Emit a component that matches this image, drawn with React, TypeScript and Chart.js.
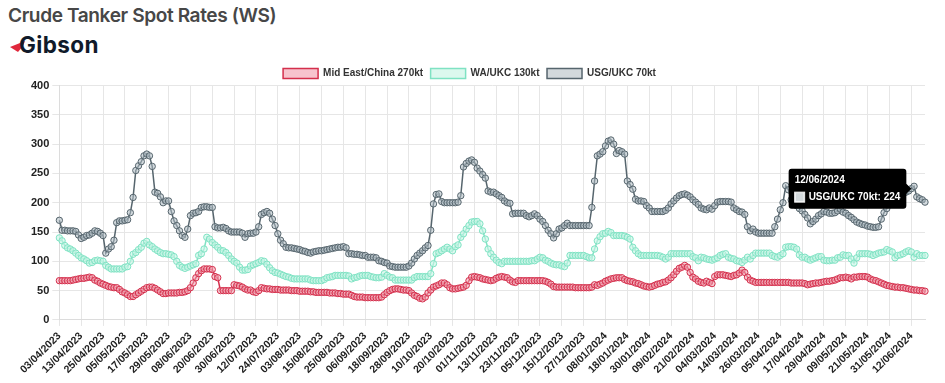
import React, { useEffect, useRef } from 'react';
import { Chart, registerables } from 'chart.js';

Chart.register(...registerables);

// ---- Data -----------------------------------------------------------------
const START_DATE = '2023-04-03';
const POINT_COUNT = 318;
const TICK_EVERY = 8;
const TOOLTIP_INDEX = 312; // 12/06/2024

function businessDayLabels(start: string, n: number): string[] {
  const d = new Date(start + 'T00:00:00Z');
  const out: string[] = [];
  while (out.length < n) {
    const wd = d.getUTCDay();
    if (wd !== 0 && wd !== 6) {
      const dd = String(d.getUTCDate()).padStart(2, '0');
      const mm = String(d.getUTCMonth() + 1).padStart(2, '0');
      out.push(`${dd}/${mm}/${d.getUTCFullYear()}`);
    }
    d.setUTCDate(d.getUTCDate() + 1);
  }
  return out;
}

const categories = businessDayLabels(START_DATE, POINT_COUNT);

const yTicks = [0, 50, 100, 150, 200, 250, 300, 350, 400];

const seriesNames = ['Mid East/China 270kt', 'WA/UKC 130kt', 'USG/UKC 70kt'];

const midEastChina = [
  67, 67, 67, 67, 67, 68, 69, 70,
  71, 71, 72, 73, 72, 68, 66, 63,
  61, 59, 57, 56, 55, 55, 52, 48,
  46, 43, 40, 40, 43, 46, 49, 52,
  55, 56, 56, 54, 51, 48, 45, 45,
  46, 46, 46, 46, 47, 47, 48, 50,
  55, 63, 72, 79, 84, 87, 87, 87,
  86, 74, 72, 50, 50, 50, 50, 50,
  60, 59, 58, 56, 53, 51, 51, 48,
  47, 50, 55, 54, 53, 53, 52, 52,
  52, 51, 51, 51, 51, 50, 50, 50,
  49, 49, 49, 49, 48, 48, 47, 47,
  47, 47, 47, 46, 46, 46, 45, 45,
  44, 44, 44, 42, 40, 39, 39, 39,
  38, 38, 38, 38, 38, 38, 39, 43,
  47, 50, 52, 53, 53, 52, 51, 51,
  50, 46, 42, 40, 37, 36, 39, 46,
  51, 56, 58, 60, 63, 63, 60, 55,
  53, 53, 54, 55, 56, 59, 67, 73,
  74, 73, 72, 70, 69, 68, 67, 68,
  71, 73, 74, 73, 72, 68, 65, 64,
  67, 67, 67, 67, 67, 67, 67, 67,
  67, 67, 66, 64, 61, 57, 56, 56,
  56, 56, 56, 56, 56, 55, 55, 55,
  55, 55, 55, 56, 60, 59, 61, 63,
  66, 68, 70, 71, 72, 72, 72, 69,
  67, 66, 65, 63, 62, 60, 58, 57,
  56, 57, 59, 61, 62, 64, 65, 68,
  72, 77, 83, 88, 90, 93, 90, 81,
  73, 70, 66, 64, 63, 66, 64, 62,
  74, 77, 77, 77, 76, 75, 74, 76,
  77, 80, 85, 81, 73, 68, 66, 64,
  64, 64, 64, 64, 64, 64, 64, 64,
  64, 64, 64, 64, 63, 63, 63, 63,
  63, 62, 60, 61, 62, 63, 63, 64,
  65, 66, 66, 67, 68, 70, 72, 72,
  73, 72, 70, 73, 73, 74, 74, 74,
  73, 70, 68, 67, 65, 63, 61, 59,
  58, 57, 56, 56, 55, 55, 54, 53,
  52, 51, 51, 50, 50, 49,
];

const waUkc = [
  140, 135, 127, 123, 121, 118, 114, 110,
  106, 104, 101, 97, 98, 101, 102, 101,
  100, 93, 90, 87, 87, 87, 87, 87,
  90, 91, 100, 112, 115, 120, 124, 131,
  134, 128, 125, 121, 118, 115, 113, 113,
  112, 111, 108, 100, 93, 90, 88, 90,
  92, 94, 96, 110, 113, 121, 141, 138,
  132, 128, 124, 119, 118, 115, 110, 104,
  100, 97, 90, 85, 85, 86, 92, 94,
  96, 98, 101, 100, 95, 89, 84, 81,
  80, 78, 76, 74, 73, 71, 70, 70,
  70, 70, 70, 70, 68, 67, 67, 67,
  67, 69, 72, 73, 74, 76, 76, 76,
  76, 76, 75, 70, 72, 73, 75, 76,
  76, 76, 74, 73, 72, 72, 73, 79,
  76, 73, 72, 68, 68, 68, 68, 68,
  68, 68, 72, 74, 74, 74, 74, 74,
  79, 96, 113, 115, 118, 121, 124, 121,
  118, 125, 128, 141, 147, 155, 161, 167,
  168, 168, 164, 152, 138, 121, 113, 107,
  102, 98, 96, 100, 100, 100, 100, 100,
  100, 100, 100, 100, 100, 101, 101, 104,
  107, 106, 102, 100, 97, 95, 94, 94,
  92, 91, 97, 110, 110, 110, 110, 110,
  110, 108, 106, 106, 121, 135, 142, 147,
  148, 151, 149, 144, 144, 144, 144, 143,
  141, 138, 124, 118, 113, 110, 110, 110,
  110, 110, 110, 110, 109, 107, 104, 107,
  113, 113, 113, 113, 113, 113, 113, 113,
  108, 106, 101, 107, 106, 104, 103, 102,
  104, 106, 110, 112, 113, 107, 105, 104,
  101, 100, 98, 102, 107, 104, 110, 114,
  114, 114, 114, 114, 114, 110, 108, 107,
  110, 113, 124, 125, 125, 124, 121, 111,
  107, 107, 104, 102, 104, 106, 108, 108,
  102, 101, 101, 102, 102, 106, 107, 111,
  110, 110, 104, 97, 106, 113, 113, 113,
  113, 112, 110, 112, 114, 115, 116, 120,
  118, 116, 106, 110, 111, 113, 116, 118,
  116, 107, 113, 110, 110, 110,
];

const usgUkc = [
  170, 153, 153, 152, 152, 152, 151, 145,
  139, 141, 144, 145, 148, 152, 151, 148,
  144, 114, 121, 125, 136, 166, 169, 169,
  170, 171, 183, 209, 255, 263, 270, 280,
  283, 280, 262, 218, 216, 210, 200, 203,
  203, 185, 169, 161, 152, 144, 141, 155,
  178, 182, 183, 185, 192, 193, 193, 192,
  192, 159, 157, 157, 158, 156, 152, 150,
  150, 150, 150, 148, 141, 147, 148, 148,
  150, 159, 180, 183, 185, 182, 172, 161,
  147, 136, 130, 124, 123, 123, 122, 121,
  120, 118, 117, 115, 114, 116, 117, 118,
  118, 119, 120, 121, 122, 123, 124, 124,
  125, 123, 113, 113, 112, 112, 111, 110,
  110, 107, 107, 107, 106, 101, 100, 98,
  97, 92, 91, 90, 90, 90, 90, 90,
  92, 97, 104, 110, 114, 118, 123, 127,
  153, 198, 214, 215, 202, 200, 200, 200,
  200, 200, 201, 212, 261, 267, 271, 273,
  269, 259, 254, 248, 242, 220, 218, 218,
  215, 212, 209, 203, 200, 199, 181, 182,
  182, 182, 182, 178, 176, 178, 181, 178,
  172, 168, 161, 153, 147, 140, 147, 155,
  157, 161, 165, 161, 161, 161, 161, 161,
  161, 161, 161, 192, 237, 280, 283, 287,
  297, 305, 307, 300, 284, 289, 287, 283,
  237, 231, 223, 206, 203, 203, 202, 195,
  191, 185, 185, 185, 185, 185, 187, 191,
  198, 203, 208, 212, 214, 215, 213, 210,
  205, 201, 197, 191, 189, 188, 191, 189,
  195, 201, 202, 202, 202, 202, 201, 191,
  188, 185, 184, 180, 159, 152, 155, 150,
  148, 148, 148, 148, 148, 148, 159, 172,
  188, 200, 229, 222, 205, 198, 195, 190,
  186, 180, 174, 164, 168, 172, 178, 181,
  185, 184, 182, 182, 183, 186, 189, 184,
  182, 178, 175, 171, 167, 165, 163, 162,
  160, 159, 158, 158, 159, 172, 183, 190,
  200, 205, 210, 212, 213, 215, 218, 220,
  224, 228, 210, 207, 205, 201,
];

const lineColors = ['#d42f4c', '#7fe2c3', '#56656d'];
const fillColors = ['#f7c3cd', '#dcf8ee', '#d3d9dc'];
const pointFills = ['rgba(240,160,175,0.55)', 'rgba(200,245,230,0.6)', 'rgba(175,188,195,0.55)'];

// Nudges the legend down a little without moving the plot area.
const legendNudge = {
  id: 'legendNudge',
  afterLayout(chart: any) {
    if (chart.legend) {
      chart.legend.top += 3;
      chart.legend.bottom += 3;
    }
  },
};

// ---- Component ------------------------------------------------------------
export default function App() {
  const canvasRef = useRef<HTMLCanvasElement | null>(null);

  useEffect(() => {
    if (!canvasRef.current) return;
    const seriesValues = [midEastChina, waUkc, usgUkc];
    const font = '"Liberation Sans", Arial, sans-serif';
    const chart = new Chart(canvasRef.current, {
      type: 'line',
      data: {
        labels: categories,
        datasets: seriesNames.map((name, i) => ({
          label: name,
          data: seriesValues[i],
          borderColor: lineColors[i],
          backgroundColor: fillColors[i],
          borderWidth: 1.5,
          pointRadius: 3.2,
          pointHoverRadius: 3.2,
          pointBorderWidth: 1,
          pointHoverBorderWidth: 1,
          pointBorderColor: lineColors[i],
          pointBackgroundColor: pointFills[i],
          pointHoverBackgroundColor: pointFills[i],
          pointHoverBorderColor: lineColors[i],
          tension: 0,
        })),
      },
      plugins: [legendNudge],
      options: {
        responsive: false,
        animation: false,
        layout: { padding: { left: 14, right: 20, top: 3, bottom: 3 } },
        plugins: {
          legend: {
            position: 'top',
            labels: {
              boxWidth: 35,
              boxHeight: 10,
              padding: 7.5,
              color: '#333',
              font: { family: font, size: 10, weight: 'bold' },
            },
          },
          tooltip: {
            backgroundColor: '#000',
            titleFont: { family: font, size: 10, weight: 'bold', lineHeight: 1.1 },
            bodyFont: { family: font, size: 10, weight: 'bold', lineHeight: 1.1 },
            titleColor: '#fff',
            bodyColor: '#fff',
            padding: 6,
            titleMarginBottom: 6,
            cornerRadius: 3,
            caretSize: 5,
            caretPadding: 0,
            boxPadding: 2,
            callbacks: {
              labelColor: () => ({
                borderColor: '#e8e8e8',
                backgroundColor: '#d3d9dc',
                borderWidth: 1,
              }),
            },
          },
        },
        scales: {
          x: {
            grid: { color: '#e6e6e6', tickLength: 6 },
            border: { color: '#dcdcdc' },
            ticks: {
              autoSkip: false,
              minRotation: 45,
              maxRotation: 45,
              color: '#222',
              padding: 4,
              font: { family: font, size: 10.5, weight: 'bold' },
              callback: function (value: any, index: number) {
                return index % TICK_EVERY === 0 ? categories[index] : null;
              },
            },
          },
          y: {
            min: yTicks[0],
            max: yTicks[yTicks.length - 1],
            grid: { color: '#e6e6e6', tickLength: 7 },
            border: { color: '#dcdcdc' },
            afterFit: (scale: any) => {
              scale.width += 14;
            },
            ticks: {
              stepSize: yTicks[1] - yTicks[0],
              color: '#222',
              padding: 3,
              font: { family: font, size: 11, weight: 'bold' },
            },
          },
        },
      },
    } as any);

    const active = [{ datasetIndex: 2, index: TOOLTIP_INDEX }];
    chart.tooltip?.setActiveElements(active, { x: 0, y: 0 });
    chart.update();

    return () => chart.destroy();
  }, []);

  return (
    <div style={{ position: 'absolute', left: 0, top: 0, width: 945, height: 383, background: '#fff', overflow: 'hidden' }}>
      <div
        style={{
          position: 'absolute',
          left: 8,
          top: 3,
          fontFamily: 'Inter, "Open Sans", sans-serif',
          fontWeight: 600,
          fontSize: 19.1,
          letterSpacing: -0.4,
          color: '#474747',
          whiteSpace: 'nowrap',
        }}
      >
        Crude Tanker Spot Rates (WS)
      </div>
      <svg width="16" height="12" viewBox="0 0 16 12" style={{ position: 'absolute', left: 10, top: 41 }}>
        <polygon points="0,6 15,0 13,5 8,11" fill="#e0283c" />
      </svg>
      <div
        style={{
          position: 'absolute',
          left: 19,
          top: 31,
          fontFamily: 'Inter, "Open Sans", sans-serif',
          fontWeight: 700,
          fontSize: 22.5,
          letterSpacing: 0.4,
          color: '#101a2a',
          lineHeight: '28px',
          whiteSpace: 'nowrap',
        }}
      >
        Gibson
      </div>
      <canvas
        ref={canvasRef}
        width={945}
        height={328}
        style={{ position: 'absolute', left: 0, top: 55, width: 945, height: 328 }}
      />
    </div>
  );
}
